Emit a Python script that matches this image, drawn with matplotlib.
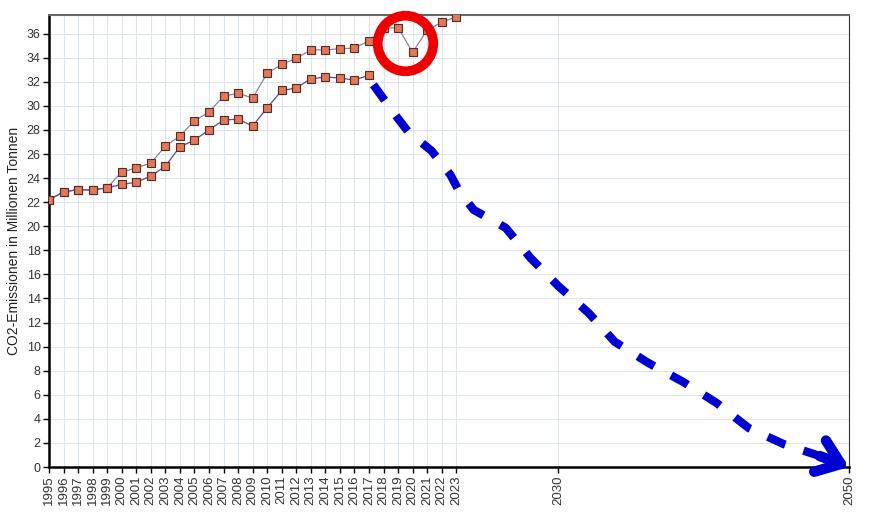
import matplotlib
matplotlib.use("Agg")
import matplotlib.pyplot as plt

plt.rcParams['font.family'] = ['Liberation Sans', 'DejaVu Sans']

# measured emissions, upper series (1995-2023)
years_upper = [1995, 1996, 1997, 1998, 1999, 2000, 2001, 2002, 2003, 2004,
               2005, 2006, 2007, 2008, 2009, 2010, 2011, 2012, 2013, 2014,
               2015, 2016, 2017, 2018, 2019, 2020, 2021, 2022, 2023]
co2_upper = [22.2, 22.85, 23.05, 23.0, 23.2, 24.5, 24.85, 25.25, 26.65, 27.5,
             28.75, 29.5, 30.8, 31.05, 30.65, 32.7, 33.45, 33.95, 34.65, 34.65,
             34.75, 34.8, 35.4, 36.45, 36.5, 34.45, 36.3, 36.95, 37.4]

# lower series (1995-2017)
years_lower = [1995, 1996, 1997, 1998, 1999, 2000, 2001, 2002, 2003, 2004,
               2005, 2006, 2007, 2008, 2009, 2010, 2011, 2012, 2013, 2014,
               2015, 2016, 2017]
co2_lower = [22.2, 22.85, 23.05, 23.0, 23.2, 23.47, 23.66, 24.16, 25.0, 26.6,
             27.16, 28.0, 28.82, 28.9, 28.32, 29.84, 31.28, 31.48, 32.25, 32.4,
             32.32, 32.14, 32.55]

# hand drawn reduction path down to 2050
path_years = [2017.3, 2018.9, 2019.7, 2021.3, 2022.6, 2023.2, 2024.2, 2026.4,
              2028.1, 2030.0, 2032.1, 2033.9, 2036.2, 2038.6, 2040.9, 2043.1,
              2045.5, 2048.0]
path_values = [31.75, 29.1, 27.85, 26.27, 24.27, 22.9, 21.36, 19.87,
               17.37, 15.05, 12.8, 10.4, 8.65, 7.07, 5.32, 3.24,
               1.91, 0.91]
arrow_end = (2050, 0)

# red circle around the 2020 dip
circle_center = (2019.5, 35.25)

xticks = years_upper + [2030, 2050]
yticks = list(range(0, 37, 2))

fig = plt.figure(figsize=(8.73, 5.21), dpi=100)
ax = fig.add_axes([0.0561, 0.1036, 0.9164, 0.8676])

ax.plot(years_upper, co2_upper, color='#8c8496', lw=0.9, zorder=3)
ax.plot(years_lower, co2_lower, color='#5a4a9a', lw=0.9, zorder=3)
marker_style = dict(ls='none', marker='s', ms=5.2, mfc='#e0785c',
                    mec='#5a2a1a', mew=0.8, zorder=4)
ax.plot(years_upper, co2_upper, **marker_style)
ax.plot(years_lower, co2_lower, **marker_style)

blue = '#0000d0'
ax.plot(path_years, path_values, color=blue, lw=6, dashes=(2.3, 2.3),
        dash_capstyle='butt', zorder=5, clip_on=False)
ax.annotate('', xy=arrow_end, xytext=(path_years[-1], path_values[-1]),
            arrowprops=dict(arrowstyle='->,head_length=0.8,head_width=0.6',
                            color=blue, lw=7.5, shrinkA=0, shrinkB=0,
                            mutation_scale=20, capstyle='round',
                            joinstyle='round'),
            zorder=6)

ax.plot([circle_center[0]], [circle_center[1]], marker='o', ms=40,
        mfc='none', mec='#ee0000', mew=7, clip_on=False, zorder=7)

ax.set_xlim(1995, 2050)
ax.set_ylim(0, 37.55)
ax.set_xticks(xticks)
ax.set_xticklabels([str(x) for x in xticks], rotation=90)
ax.set_yticks(yticks)
ax.tick_params(axis='both', labelcolor='#333333',
               length=4, width=1, direction='out', pad=2)
ax.tick_params(axis='x', labelsize=9.5)
ax.tick_params(axis='y', labelsize=9)
ax.grid(True, color='#dce5ee', lw=0.8)
ax.set_axisbelow(True)

ax.set_ylabel('CO2-Emissionen in Millionen Tonnen', fontsize=10,
              color='#222222', labelpad=4)

ax.spines['left'].set_linewidth(1.8)
ax.spines['bottom'].set_linewidth(1.8)
ax.spines['top'].set_color('#666666')
ax.spines['top'].set_linewidth(1.5)
ax.spines['right'].set_color('#333333')

fig.savefig('out.png', dpi=100)
